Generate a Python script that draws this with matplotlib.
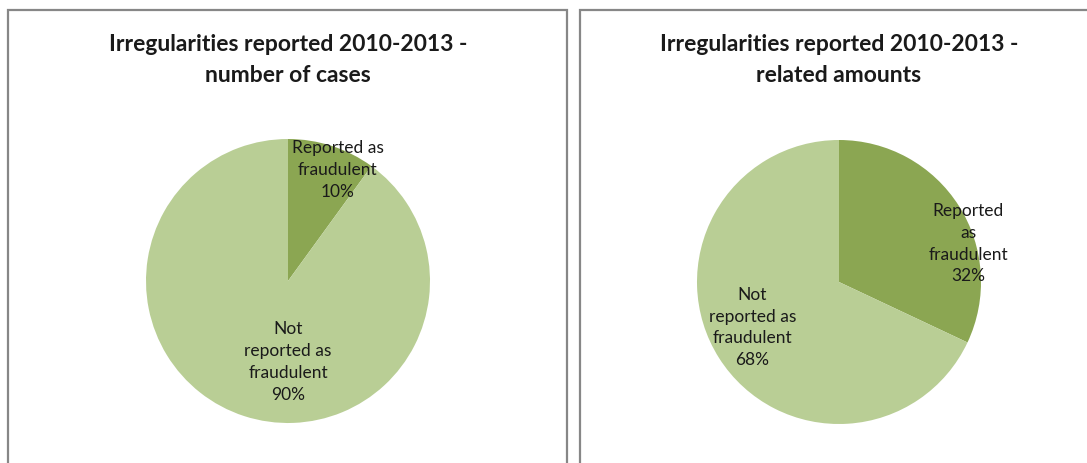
import matplotlib
matplotlib.use("Agg")
import matplotlib.pyplot as plt
from matplotlib.patches import Rectangle

W, H = 1087, 463

# data
titles = ["Irregularities reported 2010-2013 -\nnumber of cases",
          "Irregularities reported 2010-2013 -\nrelated amounts"]
categories = ["Reported as fraudulent", "Not reported as fraudulent"]
cases_pct = [10, 90]
amounts_pct = [32, 68]

DARK = "#8BA652"
LIGHT = "#B9CE95"
BORDER = "#878787"

plt.rcParams["font.family"] = ["Lato", "DejaVu Sans"]

fig = plt.figure(figsize=(W / 100, H / 100), dpi=100)


def px_axes(cx, cy, r):
    # cx, cy in pixels from top-left
    return fig.add_axes([(cx - r) / W, (H - cy - r) / H, 2 * r / W, 2 * r / H])


def draw_pie(ax, values, label_texts, label_pos):
    ax.pie(values, colors=[DARK, LIGHT], startangle=90, counterclock=False,
           radius=1.0, wedgeprops=dict(linewidth=0))
    ax.set_xlim(-1, 1)
    ax.set_ylim(-1, 1)
    ax.axis("off")
    for txt, (x, y) in zip(label_texts, label_pos):
        ax.text(x, y, txt, ha="center", va="center", fontsize=12.5,
                color="#1a1a1a", linespacing=1.45)


# panel borders
fig.patches.append(Rectangle((8 / W, -0.1), (567 - 8) / W, 1.1 - 10 / H,
                             transform=fig.transFigure, fill=False,
                             edgecolor=BORDER, linewidth=1.6))
fig.patches.append(Rectangle((580 / W, -0.1), 0.5, 1.1 - 10 / H,
                             transform=fig.transFigure, fill=False,
                             edgecolor=BORDER, linewidth=1.6))

ax1 = px_axes(288, 281, 142)
draw_pie(ax1, cases_pct,
         [f"Reported as\nfraudulent\n{cases_pct[0]}%",
          f"Not\nreported as\nfraudulent\n{cases_pct[1]}%"],
         [(0.35, 0.78), (0.0, -0.57)])

ax2 = px_axes(839, 282, 142)
draw_pie(ax2, amounts_pct,
         [f"Reported\nas\nfraudulent\n{amounts_pct[0]}%",
          f"Not\nreported as\nfraudulent\n{amounts_pct[1]}%"],
         [(0.91, 0.27), (-0.61, -0.32)])

for cx, t in zip([288, 839], titles):
    fig.text(cx / W, 1 - 60 / H, t, ha="center", va="center", fontsize=16.5,
             fontweight="bold", color="#1a1a1a", linespacing=1.55)

fig.savefig("out.png", dpi=100)
